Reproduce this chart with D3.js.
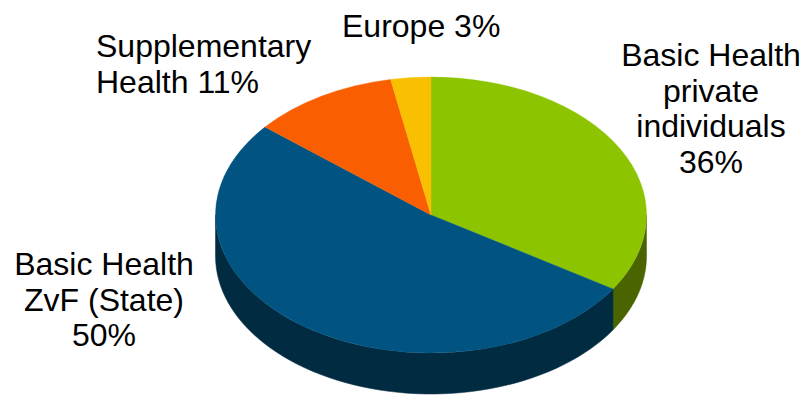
<html lang="en">
<head>
    <meta charset="UTF-8">
    <title>Health insurance share</title>
    <style>
        body { margin: 0; background: #ffffff; }
        .label {
            font-family: "Liberation Sans", Arial, sans-serif;
            font-size: 32px;
            fill: #000;
        }
    </style>
</head>
<body>
    <svg width="805" height="396"></svg>

    <script src="https://cdn.jsdelivr.net/npm/d3@7/dist/d3.min.js"></script>
    <script>
        (function () {
            'use strict';

            // slices in drawing order (clockwise from 12 o'clock)
            var categories = ["Basic Health private individuals", "Basic Health ZvF (State)", "Supplementary Health", "Europe"];
            var shares = [34, 52, 11, 3];          // slice sizes as drawn
            var pctLabels = ["36%", "50%", "11%", "3%"]; // percentages as printed
            var labelLines = [
                ["Basic Health", "private", "individuals", "36%"],
                ["Basic Health", "ZvF (State)", "50%"],
                ["Supplementary", "Health 11%"],
                ["Europe 3%"]
            ];

            var topColors = ["#8cc500", "#015481", "#f95f00", "#f8c000"];
            var sideColors = ["#4a6500", "#002b41", "#8a3400", "#8a6a00"];

            var CX = 431, CY = 215;
            var RX = 215.5, RY = 138;
            var DEPTH = 41;
            var LINE_H = 35.5;

            // label anchors: x, first baseline, text-anchor
            var labelPos = [
                { x: 711, y: 66, anchor: "middle" },
                { x: 104, y: 275, anchor: "middle" },
                { x: 96, y: 57, anchor: "start" },
                { x: 342, y: 37, anchor: "start" }
            ];

            var svg = d3.select("svg");

            var pie = d3.pie().sort(null).value(function (d) { return d; });
            var arcs = pie(shares);

            function pt(a, dy) {
                return [CX + RX * Math.sin(a), CY - RY * Math.cos(a) + (dy || 0)];
            }

            // side walls, only the front half is visible
            var sideG = svg.append("g");
            arcs.forEach(function (d, i) {
                var a0 = Math.max(d.startAngle, Math.PI / 2);
                var a1 = Math.min(d.endAngle, Math.PI * 3 / 2);
                if (a1 <= a0) return;
                var steps = d3.range(0, 61).map(function (k) { return a0 + (a1 - a0) * k / 60; });
                var top = steps.map(function (a) { return pt(a, 0); });
                var bottom = steps.slice().reverse().map(function (a) { return pt(a, DEPTH); });
                sideG.append("path")
                    .attr("d", d3.line()(top.concat(bottom)) + "Z")
                    .attr("fill", sideColors[i])
                    .attr("stroke", sideColors[i])
                    .attr("stroke-width", 0.5);
            });

            // top face: circular arcs squashed into an ellipse
            var arc = d3.arc().innerRadius(0).outerRadius(RX);
            svg.append("g")
                .attr("transform", "translate(" + CX + "," + CY + ") scale(1," + (RY / RX) + ")")
                .selectAll("path")
                .data(arcs)
                .enter()
                .append("path")
                .attr("d", arc)
                .attr("fill", function (d, i) { return topColors[i]; })
                .attr("stroke", function (d, i) { return topColors[i]; })
                .attr("stroke-width", 0.5);

            // labels
            labelLines.forEach(function (lines, i) {
                var t = svg.append("text")
                    .attr("class", "label")
                    .attr("text-anchor", labelPos[i].anchor)
                    .attr("x", labelPos[i].x)
                    .attr("y", labelPos[i].y);
                lines.forEach(function (line, j) {
                    t.append("tspan")
                        .attr("x", labelPos[i].x)
                        .attr("dy", j === 0 ? 0 : LINE_H)
                        .text(line);
                });
            });
        })();
    </script>
</body>
</html>
